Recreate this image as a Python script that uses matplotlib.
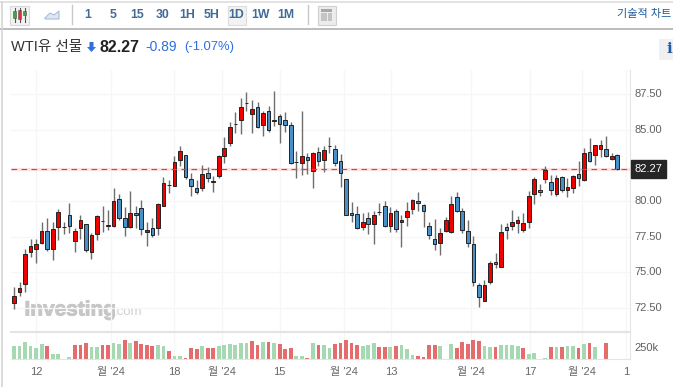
import numpy as np
import matplotlib
matplotlib.use('Agg')
import matplotlib.pyplot as plt
import matplotlib.patheffects as pe
from matplotlib.patches import Rectangle, Polygon

plt.rcParams['font.family'] = ['Liberation Sans', 'Noto Sans CJK KR', 'DejaVu Sans']

opens = [72.86, 73.59, 74.15, 76.45, 76.63, 77.05, 77.87, 76.63, 78.18, 78.16,
         79.05, 77.17, 78.11, 78.41, 76.45, 77.69, 78.62, 78.28, 78.27, 80.15,
         78.79, 78.16, 79.14, 79.54, 77.85, 78.13, 78.11, 79.65, 81.13, 81.08,
         82.86, 83.24, 81.53, 80.90, 80.90, 81.95, 81.37, 81.74, 83.19, 84.06,
         85.42, 85.67, 86.91, 86.09, 86.59, 85.35, 86.33, 85.67, 85.96, 85.72,
         85.35, 82.77, 82.65, 83.07, 82.14, 83.42, 82.89, 83.89, 83.66, 82.79,
         81.53, 79.14, 79.09, 78.16, 78.79, 78.37, 79.26, 79.65, 78.23, 79.28,
         78.51, 78.86, 79.42, 80.03, 79.72, 78.23, 77.31, 77.08, 77.87, 77.85,
         80.26, 79.33, 77.92, 77.01, 74.10, 72.98, 74.34, 75.70, 75.39, 78.16,
         78.25, 78.46, 77.97, 78.55, 80.47, 80.79, 81.58, 81.32, 80.47, 81.69,
         80.78, 80.90, 81.88, 81.46, 83.42, 83.26, 83.64, 83.64, 82.93, 83.24]
highs = [73.94, 74.31, 76.63, 77.31, 77.31, 78.51, 78.81, 78.51, 79.44, 78.53,
         79.84, 78.08, 79.00, 78.41, 77.78, 79.05, 79.68, 79.37, 80.92, 80.47,
         79.58, 80.73, 79.65, 80.05, 78.51, 78.81, 79.89, 81.67, 81.48, 83.17,
         83.89, 83.26, 81.95, 81.48, 82.53, 82.37, 81.76, 83.26, 84.50, 85.56,
         86.24, 87.24, 87.66, 87.10, 86.96, 86.35, 86.66, 87.73, 86.09, 86.24,
         85.53, 83.52, 86.30, 83.40, 83.45, 83.80, 83.87, 84.50, 83.94, 83.33,
         81.58, 79.93, 79.68, 79.14, 79.26, 79.28, 79.87, 79.98, 79.56, 79.42,
         79.02, 79.93, 80.17, 80.66, 79.79, 78.51, 78.74, 78.13, 78.86, 80.36,
         80.66, 79.49, 78.67, 77.57, 74.22, 74.43, 75.81, 76.35, 78.37, 78.44,
         79.35, 78.95, 79.19, 80.73, 81.72, 81.20, 82.47, 81.83, 81.81, 81.79,
         81.65, 81.83, 82.79, 83.71, 84.46, 83.94, 84.29, 84.57, 83.36, 83.31]
lows = [72.46, 73.33, 73.64, 76.05, 75.63, 76.98, 76.49, 75.88, 77.29, 77.71,
        77.76, 76.45, 77.36, 76.45, 75.93, 77.29, 77.83, 77.97, 78.16, 78.69,
        77.57, 78.11, 78.08, 77.64, 76.87, 77.45, 77.64, 79.65, 80.59, 81.06,
        82.47, 81.53, 80.38, 80.52, 80.71, 81.32, 80.64, 81.62, 82.68, 83.89,
        84.76, 84.69, 86.35, 84.76, 85.16, 84.60, 84.88, 85.27, 84.08, 84.83,
        82.63, 81.62, 81.86, 81.90, 80.94, 82.44, 82.07, 83.40, 82.47, 81.01,
        79.00, 78.53, 78.01, 77.97, 77.66, 76.96, 79.02, 78.20, 77.85, 77.80,
        76.80, 78.27, 79.07, 79.30, 78.16, 77.36, 76.54, 76.23, 77.85, 77.78,
        79.21, 77.78, 76.80, 74.06, 72.58, 72.96, 74.17, 75.32, 75.37, 77.31,
        77.97, 77.78, 77.85, 78.08, 79.82, 80.38, 81.25, 80.45, 80.33, 80.66,
        80.26, 80.59, 81.08, 81.43, 82.75, 82.56, 83.12, 83.12, 82.91, 82.18]
closes = [73.35, 73.92, 76.26, 76.87, 77.01, 77.92, 76.66, 78.04, 79.21, 78.18,
          78.25, 77.92, 78.67, 76.54, 77.59, 78.93, 78.60, 78.30, 80.03, 78.79,
          78.16, 79.16, 79.00, 78.06, 77.99, 77.59, 79.77, 81.25, 81.11, 82.75,
          83.50, 81.72, 81.08, 80.66, 81.93, 81.65, 81.39, 83.19, 83.75, 85.18,
          85.44, 86.59, 86.89, 86.45, 85.23, 86.21, 85.02, 85.65, 85.41, 85.35,
          82.70, 82.75, 83.17, 82.86, 83.36, 82.82, 83.61, 83.87, 82.65, 81.95,
          79.05, 79.00, 78.13, 78.53, 78.41, 79.02, 79.24, 78.27, 79.14, 78.06,
          78.65, 79.28, 80.10, 79.84, 79.28, 77.59, 76.96, 77.73, 78.65, 79.82,
          79.28, 77.95, 77.08, 74.29, 73.28, 74.13, 75.63, 75.58, 77.80, 77.95,
          78.53, 78.65, 78.48, 80.33, 81.58, 80.66, 82.21, 80.76, 81.62, 80.79,
          80.97, 81.74, 81.60, 83.36, 82.82, 83.91, 83.91, 83.19, 83.19, 82.27]

# volume in thousands, 'g' / 'r' is the bar colour in the lower panel
volumes = [279, 279, 357, 286, 229, 314, 286, 107, 107, 7,
           43, 300, 300, 336, 264, 250, 300, 300, 336, 321,
           414, 336, 393, 314, 300, 279, 300, 286, 171, 71,
           71, 14, 243, 207, 279, 229, 229, 279, 300, 314,
           300, 336, 336, 379, 300, 357, 357, 336, 314, 214,
           243, 71, 71, 14, 336, 300, 300, 229, 321, 343,
           414, 336, 300, 286, 300, 336, 264, 264, 264, 286,
           300, 207, 86, 71, 36, 300, 300, 286, 0, 314,
           243, 357, 321, 414, 386, 279, 264, 264, 300, 300,
           300, 279, 229, 107, 129, 0, 14, 264, 250, 264,
           279, 279, 243, 314, 336, 264, 0, 336, 0, 0]
vol_colors = list('ggggggrggg' 'grrrggrrgg'
                  'rgrrrrggrg' 'grrrgrrggg'
                  'gggrrgrgrr' 'rggrgrggrr'
                  'rrrgggrrgr' 'gggrrrrggg'
                  'rrrrrggrgg' 'ggrggggrgr'
                  'ggrgrggrgg')

price_ticks = [72.5, 75, 77.5, 80, 82.5, 85, 87.5]
price_labels = ['72.50', '75.00', '77.50', '80.00', '', '85.00', '87.50']
date_ticks = [4, 17.5, 29, 37.6, 48, 59.6, 68.1, 82.6, 93.2, 102.6, 110.6]
date_labels = ['12', "월 '24", '18', "월 '24", '15', "월 '24", '13', "월 '24", '17', "월 '24", '1']
last_price = 82.27

W, H = 673, 387
UP = '#f20000'
DOWN = '#4a90c8'
VOL_UP = '#e46c6c'
VOL_DOWN = '#a6d8b2'
GRID = '#f6f6f6'


def px_axes(x0, y0, x1, y1):
    # axes placed by pixel box, y counted from the top
    return fig.add_axes([x0 / W, 1 - y1 / H, (x1 - x0) / W, (y1 - y0) / H])


fig = plt.figure(figsize=(W / 100, H / 100), dpi=100)

# page furniture in pixel coordinates
ui = fig.add_axes([0, 0, 1, 1])
ui.set_xlim(0, W)
ui.set_ylim(H, 0)
ui.axis('off')
ui.plot([0, W], [1.5, 1.5], color='#dddddd', lw=1.2)
ui.plot([0, W], [28.5, 28.5], color='#b0b0b0', lw=1.2)
ui.plot([1.5, 1.5], [2, H], color='#d4d4d4', lw=1.2)
ui.plot([71.5, 71.5], [5, 24], color='#c8c8c8', lw=1)
ui.plot([307.5, 307.5], [5, 24], color='#c8c8c8', lw=1)
ui.add_patch(Rectangle((9.5, 5.5), 19, 19, fc='#f2f2f2', ec='#d8d8d8', lw=0.8))
ui.add_patch(Rectangle((227.5, 5.5), 18, 19, fc='#f2f2f2', ec='#dddddd', lw=0.8))
ui.add_patch(Rectangle((317.5, 5.5), 18, 19, fc='#ececec', ec='#cfcfcf', lw=0.8))
ui.add_patch(Rectangle((321, 9), 11, 2.5, fc='#a8a8a8', ec='none'))
ui.add_patch(Rectangle((321, 13), 6, 8, fc='#c4c4c4', ec='none'))
ui.add_patch(Rectangle((328, 13), 4, 8, fc='#c4c4c4', ec='none'))

# candle icon
for ix, c, t, b in [(14.5, '#3fa34d', 11, 18), (19.5, '#e03030', 10, 19), (24.5, '#3fa34d', 11, 15)]:
    ui.plot([ix, ix], [8, 22], color='#555555', lw=0.8)
    ui.add_patch(Rectangle((ix - 1.5, t), 3, b - t, fc=c, ec='#555555', lw=0.4, zorder=3))
# area icon
ui.add_patch(Polygon([(45, 18), (50, 13), (54, 15), (59, 11), (59, 19), (45, 19)], fc='#dfe7f2', ec='#a9bdd8', lw=0.8))

for tx, tl in zip([88, 113, 137.5, 163, 187, 212, 236.5, 261, 286],
                  ['1', '5', '15', '30', '1H', '5H', '1D', '1W', '1M']):
    ui.text(tx, 14.5, tl, ha='center', va='center', fontsize=8.8, color='#2c5a8c', fontweight='bold', alpha=0.9)
ui.text(617, 14.5, '기술적 차트', ha='left', va='center', fontsize=8, color='#1c5a9c')

ui.text(11, 47, 'WTI유 선물', ha='left', va='center', fontsize=10.5, color='#333333')
ui.add_patch(Polygon([(89.5, 42), (93.5, 42), (93.5, 47), (96, 47), (91.5, 52), (87, 47), (89.5, 47)], fc='#2f6fdf', ec='none'))
ui.text(100, 47, '82.27', ha='left', va='center', fontsize=11.5, color='#222222', fontweight='bold')
ui.text(145.5, 47, '-0.89', ha='left', va='center', fontsize=10, color='#2f6fdf')
ui.text(184, 47, '(-1.07%)', ha='left', va='center', fontsize=9.4, color='#2f6fdf')
ui.add_patch(Rectangle((659, 39), 14, 21, fc='#f0f0f0', ec='none'))
ui.text(669, 49, 'i', ha='center', va='center', fontsize=11, color='#1f5aa0', fontweight='bold', family='DejaVu Serif')

# price panel
ax = px_axes(11, 70, 630, 331)
ax.set_xlim(-0.54, 111.3)
ax.set_ylim(70.88, 89.21)
ax.patch.set_alpha(0)
for sp in ax.spines.values():
    sp.set_visible(False)
ax.spines['right'].set_visible(True)
ax.spines['right'].set_color('#e4e4e4')
ax.set_xticks(date_ticks)
ax.set_yticks([t for t in price_ticks if t != 82.5])
ax.tick_params(length=0, labelbottom=False, labelleft=False)
ax.grid(True, color=GRID, lw=0.9)
ax.set_axisbelow(True)

idx = np.arange(len(opens))
o = np.array(opens)
c = np.array(closes)
up = c >= o
colors = [UP if u else DOWN for u in up]
ax.vlines(idx, lows, highs, color='#6e6e6e', lw=1.0, zorder=2)
ax.bar(idx, np.abs(c - o), bottom=np.minimum(o, c), width=0.66, color=colors, edgecolor='#222222', lw=0.7, zorder=3)

ax.axhline(last_price, color='#fde2e2', lw=2.2, zorder=1)
ax.axhline(last_price, color='#b0505a', lw=0.8, dashes=(5, 4), zorder=4)

for t, l in zip(price_ticks, price_labels):
    if l:
        ax.annotate(l, (1, t), xycoords=('axes fraction', 'data'), xytext=(3.2, 0), textcoords='offset points',
                    ha='left', va='center', fontsize=8, color='#606060', annotation_clip=False)
ax.annotate(f'{last_price:.2f}', (1, last_price), xycoords=('axes fraction', 'data'), xytext=(3.2, 0),
            textcoords='offset points', ha='left', va='center', fontsize=8, color='white', annotation_clip=False,
            zorder=6, bbox=dict(boxstyle='square,pad=0.35', fc='#262626', ec='#262626'))

# watermark
ui.text(24.5, 310, 'Investing', ha='left', va='center', fontsize=15, color='#c6c6c6', fontweight='bold', zorder=5,
        path_effects=[pe.withStroke(linewidth=0.7, foreground='#c6c6c6')])
ui.text(114, 312, '.com', ha='left', va='center', fontsize=9.5, color='#d0d0d0', zorder=5)

# volume panel
vx = px_axes(11, 332, 630, 359)
vx.set_xlim(-0.54, 111.3)
vx.set_ylim(0, 577)
vx.patch.set_alpha(0)
for sp in vx.spines.values():
    sp.set_visible(False)
vx.spines['top'].set_visible(True)
vx.spines['top'].set_color('#e4e4e4')
vx.spines['top'].set_linewidth(1.6)
vx.spines['right'].set_visible(True)
vx.spines['right'].set_color('#e4e4e4')
vx.spines['bottom'].set_visible(True)
vx.spines['bottom'].set_color('#e4e4e4')
vx.set_xticks(date_ticks)
vx.set_xticklabels(date_labels, fontsize=8, color='#666666')
vx.set_yticks([250])
vx.yaxis.tick_right()
vx.set_yticklabels(['250k'], fontsize=8, color='#606060')
vx.tick_params(length=0, pad=3)
vx.tick_params(axis='x', pad=6)
vx.grid(True, axis='x', color=GRID, lw=0.9)
vx.set_axisbelow(True)
vx.bar(idx, volumes, width=0.68, color=[VOL_UP if k == 'r' else VOL_DOWN for k in vol_colors], zorder=2)

fig.savefig('out.png', dpi=100)
